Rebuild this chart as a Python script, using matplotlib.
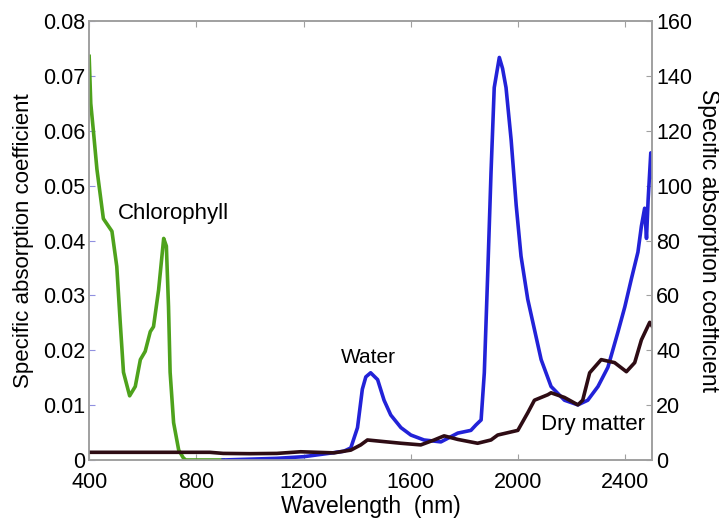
import numpy as np
import matplotlib
matplotlib.use('Agg')
import matplotlib.pyplot as plt

plt.rcParams['font.family'] = ['Liberation Sans', 'DejaVu Sans']

# chlorophyll (left axis)
chl_wl = [400, 406, 416, 429, 453, 485, 503, 516, 528, 551, 572, 591, 609, 628, 640, 659, 678, 688,
          696, 702, 715, 734, 751, 760, 900]
chl_val = [0.0736, 0.065, 0.0599, 0.053, 0.044, 0.0417, 0.0353, 0.025, 0.016, 0.0117, 0.0134, 0.0183,
           0.0198, 0.0234, 0.0243, 0.031, 0.0404, 0.039, 0.028, 0.016, 0.0068, 0.0018, 0.0004,
           0.0, 0.0]

# water (right axis)
water_wl = [900, 1100, 1200, 1300, 1350, 1376, 1401, 1419, 1432, 1450, 1476, 1500, 1525, 1563, 1600,
            1649, 1712, 1775, 1824, 1843, 1862, 1874, 1887, 1899, 1911, 1930, 1942, 1955, 1974,
            1993, 2011, 2036, 2061, 2086, 2123, 2173, 2223, 2260, 2298, 2335, 2372, 2398, 2422,
            2447, 2460, 2472, 2479, 2485, 2495, 2500]
water_val = [0.0, 0.6, 1.2, 2.5, 3.2, 4.4, 11.8, 25.8, 30.3, 31.8, 29.3, 21.8, 16.4, 11.8, 9.1,
             7.3, 6.6, 9.8, 10.8, 12.8, 14.6, 31.8, 68.8, 104.8, 135.8, 146.8, 142.8, 135.8, 116.8,
             92.8, 74.3, 58.6, 47.6, 36.6, 26.8, 21.8, 20.1, 21.8, 26.8, 33.8, 46.5, 55.8, 65.8,
             75.8, 85.3, 91.8, 80.8, 94.8, 112.0, 103.0]

# dry matter (right axis)
dry_wl = [400, 600, 850, 900, 1000, 1100, 1189, 1250, 1313, 1376, 1413, 1438, 1500, 1563, 1637,
          1687, 1724, 1775, 1849, 1899, 1924, 1999, 2036, 2061, 2111, 2123, 2173, 2223, 2241,
          2267, 2310, 2360, 2404, 2435, 2460, 2491, 2500]
dry_val = [2.8, 2.8, 2.8, 2.4, 2.3, 2.4, 3.0, 2.8, 2.6, 3.6, 5.5, 7.3, 6.7, 6.1, 5.5,
           7.3, 8.8, 7.5, 6.1, 7.3, 9.1, 10.8, 17.2, 21.8, 23.8, 24.5, 22.8, 20.1, 21.8,
           31.8, 36.6, 35.5, 32.2, 35.5, 43.8, 50.2, 48.8]

fig = plt.figure(figsize=(7.19, 5.18), dpi=100)
ax = fig.add_axes([0.124, 0.112, 0.783, 0.847])
ax2 = ax.twinx()

ax.plot(chl_wl, chl_val, color='#4ea21c', lw=2.6, zorder=3)
ax2.plot(water_wl, water_val, color='#2222d8', lw=2.6)
ax2.plot(dry_wl, dry_val, color='#2e0c14', lw=2.6)

ax.set_xlim(400, 2500)
ax.set_ylim(0, 0.08)
ax2.set_ylim(0, 160)
ax.set_xticks([400, 800, 1200, 1600, 2000, 2400])
ax.set_yticks([0, 0.01, 0.02, 0.03, 0.04, 0.05, 0.06, 0.07, 0.08])
ax.set_yticklabels(['0', '0.01', '0.02', '0.03', '0.04', '0.05', '0.06', '0.07', '0.08'])
ax2.set_yticks([0, 20, 40, 60, 80, 100, 120, 140, 160])

for a in (ax, ax2):
    for s in a.spines.values():
        s.set_color('#a0a0a0')
        s.set_linewidth(1.2)
ax.tick_params(axis='both', direction='in', length=4, labelsize=15.5, color='#9090e0', pad=3)
ax.tick_params(axis='x', color='#a0a0a0', top=True, pad=9)
ax2.tick_params(axis='y', direction='in', length=4, labelsize=15.5, color='#a0a0a0', pad=3)

ax.set_xlabel('Wavelength  (nm)', fontsize=16.5, labelpad=1)
ax.set_ylabel('Specific absorption coefficient', fontsize=16, labelpad=6)
ax2.set_ylabel('Specific absorption coefficient', fontsize=16.5, rotation=270, labelpad=20)

ax.text(508, 0.045, 'Chlorophyll', fontsize=16, ha='left', va='center')
ax.text(1338, 0.0186, 'Water', fontsize=15, ha='left', va='center')
ax.text(2086, 0.0064, 'Dry matter', fontsize=16, ha='left', va='center')

fig.savefig('out.png', dpi=100)
